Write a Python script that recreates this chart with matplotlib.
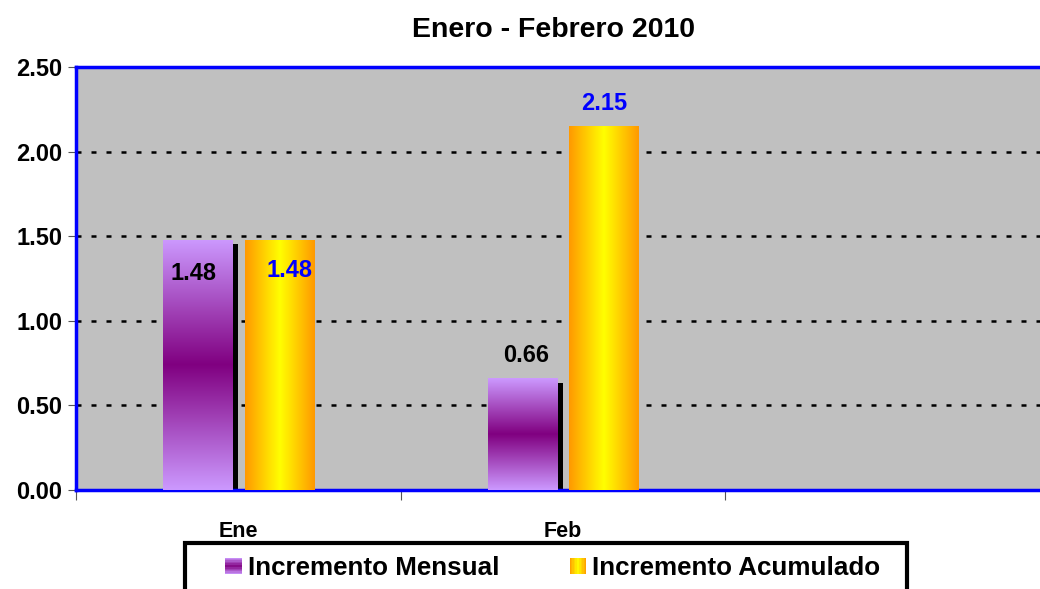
import numpy as np
import matplotlib
matplotlib.use('Agg')
import matplotlib.pyplot as plt
from matplotlib.patches import Rectangle
from matplotlib.legend_handler import HandlerBase
from matplotlib.colors import LinearSegmentedColormap

categories = ['Ene', 'Feb', '']
mensual = [1.48, 0.66]
acumulado = [1.48, 2.15]
series_names = ['Incremento Mensual', 'Incremento Acumulado']

plt.rcParams['font.family'] = ['Liberation Sans', 'DejaVu Sans']
plt.rcParams['font.weight'] = 'bold'

purple_cmap = LinearSegmentedColormap.from_list('p', ['#CC99FF', '#800080', '#CC99FF'])
orange_cmap = LinearSegmentedColormap.from_list('o', ['#FF9900', '#FFFF00', '#FF9900'])
grad = np.linspace(0, 1, 256)


class GradientHandler(HandlerBase):
    def __init__(self, cmap, vertical):
        super().__init__()
        self.cmap = cmap
        self.vertical = vertical

    def create_artists(self, legend, orig_handle, xdescent, ydescent,
                       width, height, fontsize, trans):
        n = 12
        size = 12
        x0 = -xdescent + (width - size) / 2
        y0 = -ydescent + (height - size) / 2
        arts = []
        for i in range(n):
            c = self.cmap((i + 0.5) / n)
            if self.vertical:
                r = Rectangle((x0, y0 + size * i / n), size, size / n,
                              facecolor=c, edgecolor='none', transform=trans)
            else:
                r = Rectangle((x0 + size * i / n, y0), size / n, size,
                              facecolor=c, edgecolor='none', transform=trans)
            arts.append(r)
        return arts


fig = plt.figure(figsize=(10.4, 5.89), dpi=100)
ax = fig.add_axes([76 / 1040, 1 - 490 / 589, 974 / 1040, 423 / 589])
ax.set_facecolor('#C0C0C0')

x = np.arange(len(mensual))
w = 0.215
x_m = x + 0.376
x_a = x + 0.627

# sombra detras de las barras moradas
ax.bar(x_m + w / 2 + 0.0075, np.array(mensual) - 0.025, width=0.016,
       color='black', zorder=2)

bars_m = ax.bar(x_m, mensual, width=w, color='none', zorder=3)
bars_a = ax.bar(x_a, acumulado, width=w, color='none', zorder=3)

for b in bars_m:
    x0 = b.get_x()
    im = ax.imshow(grad.reshape(-1, 1), cmap=purple_cmap, aspect='auto',
                   extent=(x0, x0 + b.get_width(), 0, b.get_height()),
                   origin='lower', zorder=3)
    im.set_clip_path(b)
for b in bars_a:
    x0 = b.get_x()
    im = ax.imshow(grad.reshape(1, -1), cmap=orange_cmap, aspect='auto',
                   extent=(x0, x0 + b.get_width(), 0, b.get_height()),
                   origin='lower', zorder=3)
    im.set_clip_path(b)

# etiquetas de datos
lab = dict(textcoords='offset pixels', ha='center', va='center',
           fontsize=17, zorder=5)
ax.annotate(f'{mensual[0]:.2f}', (x_m[0], mensual[0]), xytext=(-5, -34),
            color='black', **lab)
ax.annotate(f'{acumulado[0]:.2f}', (x_a[0], acumulado[0]), xytext=(10, -31),
            color='#0000FF', **lab)
ax.annotate(f'{mensual[1]:.2f}', (x_m[1], mensual[1]), xytext=(3, 23),
            color='black', **lab)
ax.annotate(f'{acumulado[1]:.2f}', (x_a[1], acumulado[1]), xytext=(0, 23),
            color='#0000FF', **lab)

ax.set_xlim(0, 3)
ax.set_ylim(0, 2.5)
yt = np.arange(0, 2.51, 0.5)
ax.set_yticks(yt)
ax.set_yticklabels([f'{v:.2f}' for v in yt], fontsize=17)
ax.yaxis.grid(True, color='black', linestyle=(0, (2, 4)), linewidth=1.8)
ax.set_axisbelow(True)

ax.set_xticks([0, 1, 2, 3])
ax.set_xticklabels([])
ax.set_xticks([0.5, 1.5, 2.5], minor=True)
ax.set_xticklabels(categories, minor=True, fontsize=15.5)
ax.tick_params(axis='x', which='minor', length=0, pad=22)
ax.tick_params(axis='x', which='major', length=7, color='#555555', direction='out')
ax.tick_params(axis='y', length=6, color='#555555', pad=4)

for s in ['top', 'left', 'bottom']:
    ax.spines[s].set_color('#0000FF')
    ax.spines[s].set_linewidth(2.5)
ax.spines['right'].set_visible(False)

ax.set_title('Enero - Febrero 2010', fontsize=20.5, fontweight='bold',
             pad=21.5, x=(554 - 76) / 974)

# leyenda
h1 = Rectangle((0, 0), 1, 1)
h2 = Rectangle((0, 0), 1, 1)
fig.legend([h1, h2], series_names, ncol=2, frameon=False,
           loc='center left', bbox_to_anchor=(226 / 1040, 1 - 568 / 589),
           fontsize=18.7, handlelength=0.6, handletextpad=0.25,
           columnspacing=2.72, borderpad=0, borderaxespad=0,
           handler_map={h1: GradientHandler(purple_cmap, True),
                        h2: GradientHandler(orange_cmap, False)})
fig.patches.append(Rectangle((185 / 1040, -0.05), 722 / 1040, 0.05 + 46 / 589,
                             transform=fig.transFigure, fill=False,
                             edgecolor='black', linewidth=3))

fig.savefig('out.png', dpi=100)
